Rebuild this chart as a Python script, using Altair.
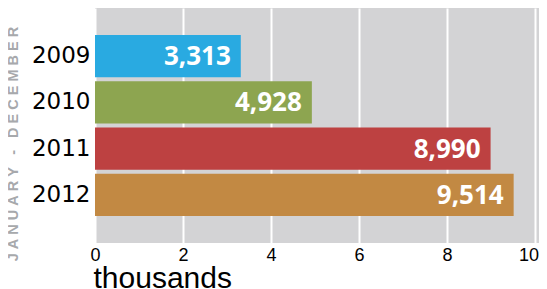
import altair as alt
import pandas as pd

years = ["2009", "2010", "2011", "2012"]
values = [3313, 4928, 8990, 9514]
colors = ["#29AAE1", "#8DA550", "#BD4141", "#C28943"]
x_ticks = [0, 2, 4, 6, 8, 10]

NB = "\u00a0"
y_title = NB.join("JANUARY") + NB * 3 + "-" + NB * 3 + NB.join("DECEMBER")

df = pd.DataFrame({"year": years, "value": values})

base = alt.Chart(df).transform_calculate(k="datum.value / 1000")

y_enc = alt.Y(
    "year:N",
    sort=years,
    scale=alt.Scale(paddingInner=0.09, paddingOuter=0.585),
    axis=alt.Axis(
        title=y_title,
        titleFont="Liberation Sans",
        titleFontSize=14.5,
        titleFontWeight="bold",
        titleColor="#A7A9AC",
        titleAngle=270,
        titleAlign="center",
        titleBaseline="middle",
        titleX=-81.5,
        titleY=135.5,
        labelFont="DejaVu Sans",
        labelFontSize=23,
        labelColor="#000000",
        labelPadding=5,
        ticks=False,
        domain=False,
        grid=False,
    ),
)

x_enc = alt.X(
    "k:Q",
    scale=alt.Scale(domain=[0, 10.09], nice=False, zero=True),
    axis=alt.Axis(
        values=x_ticks,
        title="thousands",
        titleFont="Liberation Sans",
        titleFontSize=30,
        titleFontWeight="normal",
        titleColor="#000000",
        titleAlign="left",
        titleBaseline="alphabetic",
        titleX=-2,
        titleY=44,
        labelFont="Liberation Sans",
        labelFontSize=18,
        labelColor="#000000",
        labelPadding=3,
        labelFlush=False,
        labelAlign={"condition": {"test": "datum.value == 10", "value": "right"}, "value": "center"},
        labelOffset={"condition": {"test": "datum.value == 10", "value": 3.5}, "value": 0},
        ticks=False,
        domain=False,
        grid=True,
        gridColor="#FFFFFF",
        gridWidth=2,
        gridOpacity=1,
    ),
)

bars = base.mark_bar().encode(
    x=x_enc,
    y=y_enc,
    color=alt.Color("year:N", scale=alt.Scale(domain=years, range=colors), legend=None),
)

labels = base.mark_text(
    align="right",
    baseline="middle",
    dx=-10,
    dy=1,
    font="Open Sans",
    fontWeight="bold",
    fontSize=26,
    color="#FFFFFF",
).encode(
    x=alt.X("k:Q"),
    y=alt.Y("year:N", sort=years),
    text=alt.Text("value:Q", format=","),
)

chart = (
    alt.layer(bars, labels)
    .properties(
        width=444,
        height=235,
        autosize=alt.AutoSizeParams(type="none"),
        padding={"left": 87, "top": 0, "right": 0, "bottom": 46},
        background="#FFFFFF",
    )
    .configure_view(fill="#D3D3D5", strokeWidth=0)
)

chart.save("out.html", embed_options={"renderer": "svg", "actions": False})
